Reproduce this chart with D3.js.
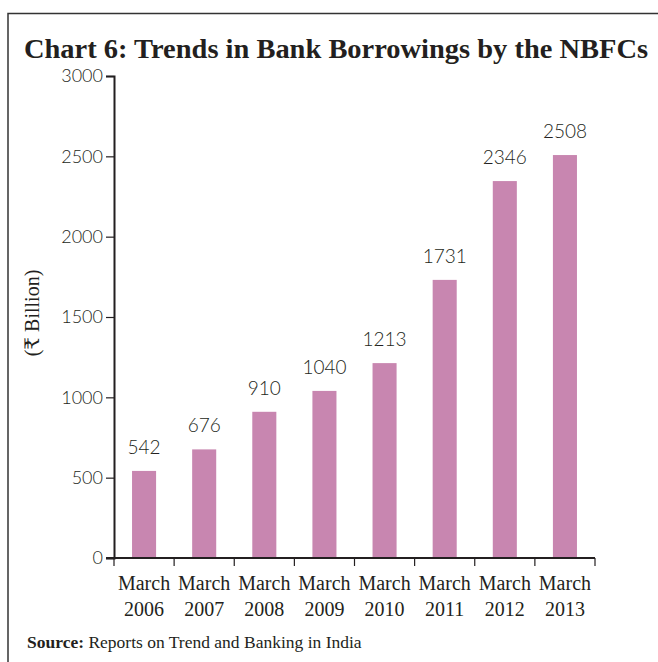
<!DOCTYPE html>
<html>
<head>
<meta charset="utf-8">
<script src="https://cdn.jsdelivr.net/npm/d3@7"></script>
<style>
  body { margin: 0; background: #fff; }
  svg { display: block; }
</style>
</head>
<body>
<div id="chart"></div>
<script>
// data
const categories = ["March 2006", "March 2007", "March 2008", "March 2009",
                    "March 2010", "March 2011", "March 2012", "March 2013"];
const borrowings = [542, 676, 910, 1040, 1213, 1731, 2346, 2508];
const yTicks = [0, 500, 1000, 1500, 2000, 2500, 3000];

const width = 658, height = 662;
const margin = {left: 114, right: 63, top: 76, bottom: 104};
const numFont = "Lato, 'Open Sans', sans-serif";
const serifFont = "'Liberation Serif', 'DejaVu Serif', serif";

const svg = d3.select("#chart").append("svg")
  .attr("width", width)
  .attr("height", height);

// frame (top + left edge only visible)
svg.append("path")
  .attr("d", "M8,662 V13.5 H658")
  .attr("fill", "none")
  .attr("stroke", "#333")
  .attr("stroke-width", 1.5);

var title = svg.append("text")
  .attr("x", 24)
  .attr("y", 58)
  .attr("font-family", serifFont)
  .attr("font-weight", "bold")
  .attr("font-size", 28)
  .attr("fill", "#231f20")
  .text("Chart 6: Trends in Bank Borrowings by the NBFCs");
// squeeze to the width in the reference
title.attr("textLength", 624).attr("lengthAdjust", "spacingAndGlyphs");

var x = d3.scaleBand()
  .domain(categories)
  .range([margin.left, width - margin.right])
  .paddingInner(0.6)
  .paddingOuter(0.3);

var y = d3.scaleLinear()
  .domain([0, 3000])
  .range([height - margin.bottom, margin.top]);

svg.append("g")
  .selectAll("rect")
  .data(borrowings)
  .enter()
  .append("rect")
  .attr("x", (d, i) => x(categories[i]))
  .attr("y", d => y(d))
  .attr("width", x.bandwidth())
  .attr("height", d => y(0) - y(d))
  .attr("fill", "#c886b0");

svg.append("g")
  .selectAll("text")
  .data(borrowings)
  .enter()
  .append("text")
  .attr("x", (d, i) => x(categories[i]) + x.bandwidth() / 2)
  .attr("y", d => y(d) - 17)
  .attr("text-anchor", "middle")
  .attr("font-family", numFont)
  .attr("font-weight", 300)
  .attr("font-size", 19)
  .attr("fill", "#231f20")
  .text(d => d);

// y axis
var yAxis = svg.append("g")
  .attr("transform", `translate(${margin.left},0)`)
  .call(d3.axisLeft(y).tickValues(yTicks).tickSize(8).tickPadding(3).tickFormat(d3.format("d")));
yAxis.select(".domain").attr("stroke", "#231f20").attr("stroke-width", 2);
yAxis.selectAll(".tick line").attr("stroke", "#231f20").attr("stroke-width", 1.2);
yAxis.selectAll(".tick text")
  .attr("font-family", numFont)
  .attr("font-weight", 300)
  .attr("font-size", 18)
  .attr("fill", "#231f20");

// x axis: ticks at band boundaries
var step = x.step();
var bounds = d3.range(categories.length + 1).map(i => margin.left + i * step);
var xAxisG = svg.append("g");
xAxisG.append("line")
  .attr("x1", margin.left - 8)
  .attr("x2", width - margin.right)
  .attr("y1", y(0))
  .attr("y2", y(0))
  .attr("stroke", "#231f20")
  .attr("stroke-width", 2);
xAxisG.selectAll(".xt")
  .data(bounds)
  .enter()
  .append("line")
  .attr("x1", d => d)
  .attr("x2", d => d)
  .attr("y1", y(0))
  .attr("y2", y(0) + 8)
  .attr("stroke", "#231f20")
  .attr("stroke-width", 1.2);

var catText = xAxisG.selectAll(".cat")
  .data(categories)
  .enter()
  .append("text")
  .attr("text-anchor", "middle")
  .attr("font-family", serifFont)
  .attr("font-size", 20)
  .attr("fill", "#231f20");
catText.append("tspan")
  .attr("x", d => x(d) + x.bandwidth() / 2)
  .attr("y", y(0) + 32)
  .text(d => d.split(" ")[0]);
catText.append("tspan")
  .attr("x", d => x(d) + x.bandwidth() / 2)
  .attr("y", y(0) + 58)
  .text(d => d.split(" ")[1]);

// y label
svg.append("text")
  .attr("transform", "translate(39,313) rotate(-90)")
  .attr("text-anchor", "middle")
  .attr("font-family", serifFont)
  .attr("font-size", 20)
  .attr("fill", "#231f20")
  .text("(₹ Billion)");

// source note
var src = svg.append("text")
  .attr("x", 27)
  .attr("y", 648)
  .attr("font-family", serifFont)
  .attr("font-size", 17.5)
  .attr("fill", "#231f20");
src.append("tspan").attr("font-weight", "bold").text("Source:");
src.append("tspan").text(" Reports on Trend and Banking in India");
</script>
</body>
</html>
